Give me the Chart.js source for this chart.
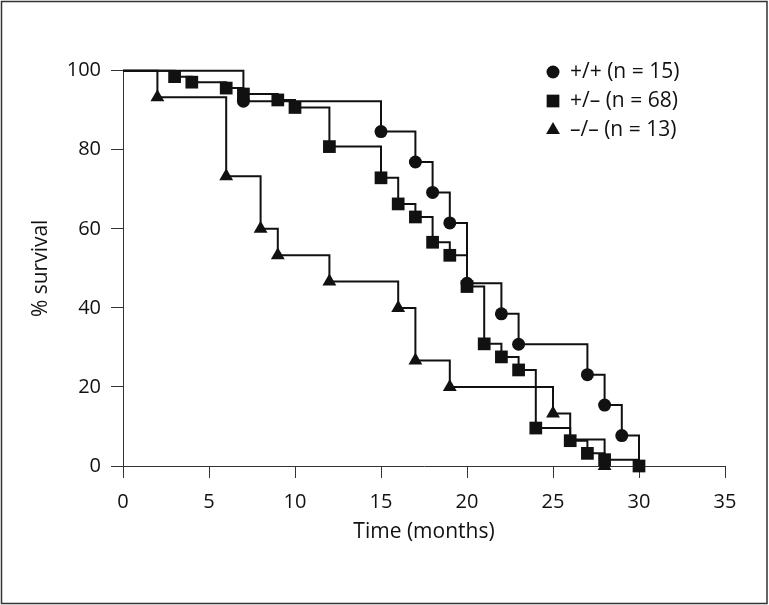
<!DOCTYPE html>
<html>
<head>
<meta charset="utf-8">
<script src="https://cdn.jsdelivr.net/npm/chart.js@4.4.1/dist/chart.umd.min.js"></script>
<style>
  html, body { margin: 0; padding: 0; background: #fff; }
  #wrap { width: 769px; height: 605px; }
</style>
</head>
<body>
<div id="wrap"><canvas id="km-chart" width="769" height="605"></canvas></div>
<script>
// Kaplan-Meier survival (% survival vs time in months)
const wtMonths = [0, 7, 15, 17, 18, 19, 20, 22, 23, 27, 28, 29, 30];
const wtSurvival = [100, 92.3, 84.6, 76.9, 69.2, 61.5, 46.2, 38.5, 30.8, 23.1, 15.4, 7.7, 0];

const hetMonths = [0, 3, 4, 6, 7, 9, 10, 12, 15, 16, 17, 18, 19, 20, 21, 22, 23, 24, 26, 27, 28, 30];
const hetSurvival = [100, 98.5, 97.1, 95.6, 94.1, 92.6, 90.7, 80.8, 72.9, 66.3, 63.0, 56.6, 53.3, 45.4, 30.9, 27.6, 24.3, 9.6, 6.4, 3.2, 1.6, 0];

const koMonths = [0, 2, 6, 8, 9, 12, 16, 17, 19, 25, 26, 28];
const koSurvival = [100, 93.3, 73.3, 60, 53.3, 46.7, 40, 26.7, 20, 13.3, 6.7, 0];

const legendLabels = ['+/+ (n = 15)', '+/\u2013 (n = 68)', '\u2013/\u2013 (n = 13)'];
const xTicks = [0, 5, 10, 15, 20, 25, 30, 35];
const yTicks = [0, 20, 40, 60, 80, 100];

const FONT = '"Open Sans", "DejaVu Sans", sans-serif';
const INK = '#111';

function toPoints(xs, ys) {
    return xs.map((x, i) => ({ x: x, y: ys[i] }));
}

// marker hidden on the starting point (and where it sits under another marker)
function radii(n, r, hidden) {
    return Array.from({ length: n }, (_, i) => (i === 0 || hidden.includes(i)) ? 0 : r);
}

const styles = [
    { pointStyle: 'circle', radius: 6.5 },
    { pointStyle: 'rect', radius: 9 },
    { pointStyle: 'triangle', radius: 8 }
];

const framePlugin = {
    id: 'frame',
    beforeDraw(chart) {
        const ctx = chart.ctx;
        ctx.save();
        ctx.fillStyle = '#fff';
        ctx.fillRect(0, 0, chart.width, chart.height);
        ctx.strokeStyle = '#333';
        ctx.lineWidth = 1.5;
        ctx.strokeRect(1.5, 1.5, chart.width - 3.5, chart.height - 3);
        ctx.restore();
    }
};

const legendPlugin = {
    id: 'kmLegend',
    afterDraw(chart) {
        const ctx = chart.ctx;
        const rows = [72, 101, 130];
        ctx.save();
        ctx.fillStyle = INK;
        ctx.strokeStyle = INK;
        ctx.font = '21px ' + FONT;
        ctx.textBaseline = 'middle';
        ctx.textAlign = 'left';
        legendLabels.forEach((label, i) => {
            ctx.fillStyle = INK;
            Chart.helpers.drawPoint(ctx, {
                pointStyle: styles[i].pointStyle,
                radius: styles[i].radius,
                rotation: 0,
                borderWidth: 0
            }, 553, rows[i]);
            ctx.fillText(label, 570, rows[i]);
        });
        ctx.restore();
    }
};

function makeSet(label, xs, ys, style, hidden) {
    return {
        label: label,
        data: toPoints(xs, ys),
        stepped: 'before',
        borderColor: INK,
        borderWidth: 2,
        backgroundColor: INK,
        pointBackgroundColor: INK,
        pointBorderWidth: 0,
        pointStyle: style.pointStyle,
        pointRadius: radii(xs.length, style.radius, hidden),
        pointHoverRadius: radii(xs.length, style.radius, hidden),
        fill: false,
        clip: false
    };
}

new Chart(document.getElementById('km-chart'), {
    type: 'line',
    data: {
        datasets: [
            makeSet(legendLabels[0], wtMonths, wtSurvival, styles[0], [wtMonths.length - 1]),
            makeSet(legendLabels[2], koMonths, koSurvival, styles[2], [10]),
            makeSet(legendLabels[1], hetMonths, hetSurvival, styles[1], [])
        ]
    },
    options: {
        responsive: false,
        animation: false,
        layout: { padding: { top: 70.7, right: 44, bottom: 0, left: 0 } },
        plugins: {
            legend: { display: false },
            tooltip: { enabled: false }
        },
        scales: {
            x: {
                type: 'linear',
                min: 0,
                max: 35,
                afterFit: (scale) => { scale.height = 139; },
                afterBuildTicks: (scale) => { scale.ticks = xTicks.map(v => ({ value: v })); },
                grid: { drawOnChartArea: false, drawTicks: true, tickLength: 12, tickColor: '#333', tickWidth: 1 },
                border: { display: true, color: '#333', width: 1 },
                ticks: { color: INK, font: { family: FONT, size: 20 }, padding: 12, maxRotation: 0 },
                title: { display: true, text: 'Time (months)', color: INK, font: { family: FONT, size: 21 }, padding: { top: 0, bottom: 60 } }
            },
            y: {
                type: 'linear',
                min: 0,
                max: 100,
                afterFit: (scale) => { scale.width = 123; },
                afterBuildTicks: (scale) => { scale.ticks = yTicks.map(v => ({ value: v })); },
                grid: { drawOnChartArea: false, drawTicks: true, tickLength: 12, tickColor: '#333', tickWidth: 1 },
                border: { display: true, color: '#333', width: 1 },
                ticks: { color: INK, font: { family: FONT, size: 20 }, padding: 10 },
                title: { display: true, text: '% survival', color: INK, font: { family: FONT, size: 21 }, padding: { top: 28, bottom: 0 } }
            }
        }
    },
    plugins: [framePlugin, legendPlugin]
});
</script>
</body>
</html>
